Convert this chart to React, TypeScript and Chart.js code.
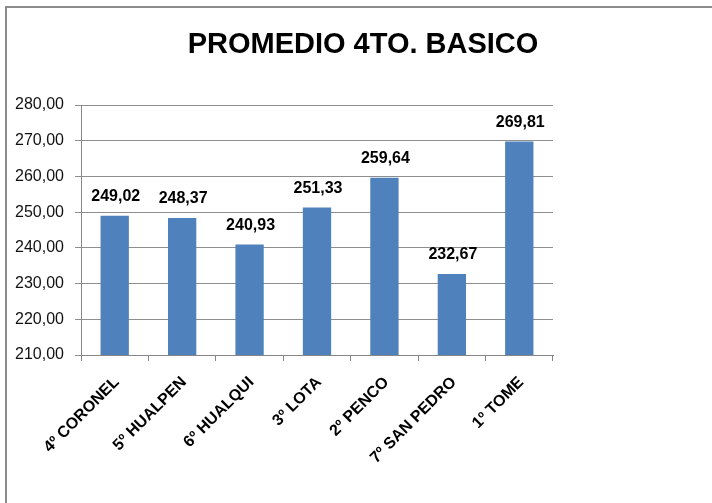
import React, { useEffect, useRef } from "react";
import { Chart, registerables } from "chart.js";

Chart.register(...registerables);

const categories = ["4º CORONEL", "5º HUALPEN", "6º HUALQUI", "3º LOTA", "2º PENCO", "7º SAN PEDRO", "1º TOME"];
const values = [249.02, 248.37, 240.93, 251.33, 259.64, 232.67, 269.81];
const titleText = "PROMEDIO 4TO. BASICO";
const yMin = 210;
const yMax = 280;
const yStep = 10;

const FONT = "'Liberation Sans', Arial, sans-serif";
const fmt = (v: number) => v.toFixed(2).replace(".", ",");

const framePlugin = {
  id: "frame",
  beforeDraw(chart: any) {
    const ctx = chart.ctx;
    ctx.save();
    ctx.fillStyle = "#ffffff";
    ctx.fillRect(0, 0, chart.width, chart.height);
    ctx.strokeStyle = "#8c8c8c";
    ctx.lineWidth = 2;
    ctx.beginPath();
    ctx.moveTo(6, chart.height);
    ctx.lineTo(6, 7);
    ctx.lineTo(chart.width, 7);
    ctx.stroke();
    ctx.fillStyle = "#000";
    ctx.font = `bold 29px ${FONT}`;
    ctx.textAlign = "center";
    ctx.textBaseline = "middle";
    ctx.fillText(titleText, 363, 45);
    ctx.restore();
  },
  afterDatasetsDraw(chart: any) {
    const ctx = chart.ctx;
    const meta = chart.getDatasetMeta(0);
    ctx.save();
    ctx.fillStyle = "#000";
    ctx.font = `bold 16px ${FONT}`;
    ctx.textAlign = "center";
    ctx.textBaseline = "bottom";
    meta.data.forEach((el: any, i: number) => {
      ctx.fillText(fmt(values[i]), el.x + 1, el.y - 11);
    });
    ctx.restore();
  },
};

export default function App() {
  const ref = useRef<HTMLCanvasElement>(null);
  useEffect(() => {
    document.body.style.margin = "0";
    const chart = new Chart(ref.current!, {
      type: "bar",
      data: {
        labels: categories,
        datasets: [
          {
            data: values,
            backgroundColor: "#4F81BD",
            categoryPercentage: 1,
            barPercentage: 0.42,
          },
        ],
      },
      options: {
        animation: false,
        responsive: false,
        layout: { padding: { left: 8, top: 105, right: 159, bottom: 0 } },
        plugins: { legend: { display: false }, tooltip: { enabled: false }, title: { display: false } },
        scales: {
          x: {
            grid: { drawOnChartArea: false, drawTicks: true, tickLength: 6, color: "#868686" },
            border: { color: "#868686" },
            ticks: {
              color: "#000",
              font: { family: FONT, size: 16, weight: "bold" },
              minRotation: 45,
              maxRotation: 45,
              autoSkip: false,
              padding: 12,
              labelOffset: 2,
            },
            afterFit(scale: any) {
              scale.height = 148;
            },
          },
          y: {
            min: yMin,
            max: yMax,
            grid: { color: "#8e8e8e", tickLength: 6 },
            border: { color: "#868686" },
            ticks: {
              stepSize: yStep,
              color: "#111",
              font: { family: FONT, size: 16 },
              padding: 11,
              callback: (v: any) => fmt(Number(v)),
            },
            afterFit(scale: any) {
              scale.width = 73;
            },
          },
        },
      },
      plugins: [framePlugin],
    });
    return () => chart.destroy();
  }, []);
  return <canvas ref={ref} width={712} height={503} style={{ display: "block" }} />;
}
